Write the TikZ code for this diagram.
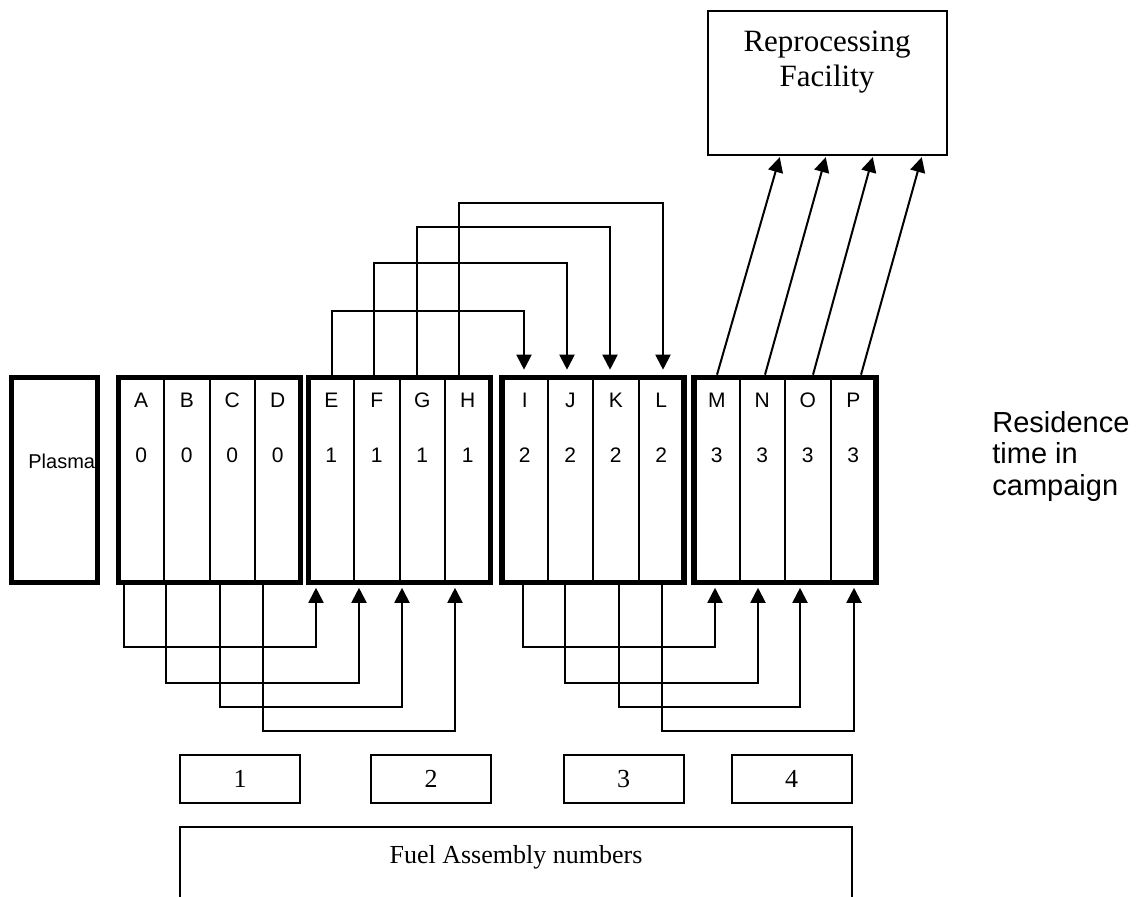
\documentclass[tikz,border=0pt]{standalone}
\usepackage{fontspec}
\setmainfont{Liberation Serif}
\setsansfont{Liberation Sans}
\usetikzlibrary{arrows.meta}

\tikzset{
  frame/.style={draw, line width=2.8pt, minimum width=91pt, minimum height=102.5pt, inner sep=0pt},
  cell/.style={draw, line width=1pt, minimum width=22.75pt, minimum height=102.5pt, inner sep=0pt},
  tag/.style={font=\sffamily\fontsize{10.5pt}{12pt}\selectfont, inner sep=0pt, anchor=base},
  thinbox/.style={draw, line width=1pt, inner sep=0pt},
  serif/.style={font=\rmfamily\fontsize{13pt}{15pt}\selectfont, inner sep=0pt},
  move/.style={line width=1pt, -{Triangle[length=7.5pt,width=7.5pt]}},
}

\begin{document}
\begin{tikzpicture}[x=0.5pt, y=-0.5pt]
  \useasboundingbox (0,0) rectangle (1138,897);
  \clip (0,0) rectangle (1138,897);

  % plasma region
  \node[anchor=base west, inner sep=0pt, font=\sffamily\fontsize{10pt}{12pt}\selectfont]
    (plasmatext) at (28,468) {Plasma};
  \node[frame, minimum width=43pt] (plasma) at (54.5,480) {};

  % fuel assembly cells: name / centre / residence time
  \foreach \n/\x/\d in {A/141.25/0, B/186.75/0, C/232.25/0, D/277.75/0,
                        E/331.25/1, F/376.75/1, G/422.25/1, H/467.75/1,
                        I/524.75/2, J/570.25/2, K/615.75/2, L/661.25/2,
                        M/716.75/3, N/762.25/3, O/807.75/3, P/853.25/3} {
    \node[cell] (\n) at (\x,480) {};
    \node[tag] (\n-name) at (\x,408) {\n};
    \node[tag] (\n-time) at (\x,462) {\d};
  }

  % campaign blocks
  \node[frame] (blk1) at (209.5,480) {};
  \node[frame] (blk2) at (399.5,480) {};
  \node[frame] (blk3) at (593,480) {};
  \node[frame] (blk4) at (785,480) {};

  % reprocessing facility (base anchor sits on the last line)
  \node[thinbox, minimum width=119.5pt, minimum height=72pt, line width=1.2pt] (repro) at (827.5,83) {};
  \node[anchor=base, inner sep=0pt, align=center,
        font=\rmfamily\fontsize{15.5pt}{17.5pt}\selectfont] (reprotext) at (827,87)
        {Reprocessing\\Facility};

  % side caption
  \node[anchor=base west, inner sep=0pt, align=left,
        font=\sffamily\fontsize{14.5pt}{15.75pt}\selectfont] (residence) at (992,495)
        {Residence\\time in\\campaign};

  % shuffles over the top: E..H -> I..L
  \foreach \s/\t/\h in {332/524/311, 374/567/263, 417/610/227, 459/663/203}
    \draw[move, shorten >=2.5pt] (\s,0 |- blk2.north) |- (\t,\h) -- (\t,0 |- blk3.north);

  % shuffles underneath: A..D -> E..H and I..L -> M..P
  \foreach \s/\t/\h in {124/316/647, 166/359/683, 220/402/707, 263/455/731}
    \draw[move, shorten >=1.25pt] (\s,0 |- blk1.south) |- (\t,\h) -- (\t,0 |- blk2.south);
  \foreach \s/\t/\h in {523/715/647, 565/758/683, 619/800/707, 662/854/731}
    \draw[move, shorten >=1.25pt] (\s,0 |- blk3.south) |- (\t,\h) -- (\t,0 |- blk4.south);

  % discharge to reprocessing: M..P
  \foreach \s/\t in {717/780, 765/826, 813/873, 861/922}
    \draw[move, shorten >=0.5pt] (\s,0 |- blk4.north) -- (\t,0 |- repro.south);

  % campaign numbers
  \node[thinbox, serif, minimum width=60pt, minimum height=24pt] (n1) at (240,779) {1};
  \node[thinbox, serif, minimum width=60pt, minimum height=24pt] (n2) at (431,779) {2};
  \node[thinbox, serif, minimum width=60pt, minimum height=24pt] (n3) at (623.5,779) {3};
  \node[thinbox, serif, minimum width=60pt, minimum height=24pt] (n4) at (791.5,779) {4};

  % fuel assembly numbers box, running off the bottom edge
  \node[thinbox, minimum width=336pt, minimum height=70pt] (fuel) at (516,897) {};
  \node[serif, anchor=base] (fueltext) at (516,863) {Fuel Assembly numbers};
\end{tikzpicture}
\end{document}
